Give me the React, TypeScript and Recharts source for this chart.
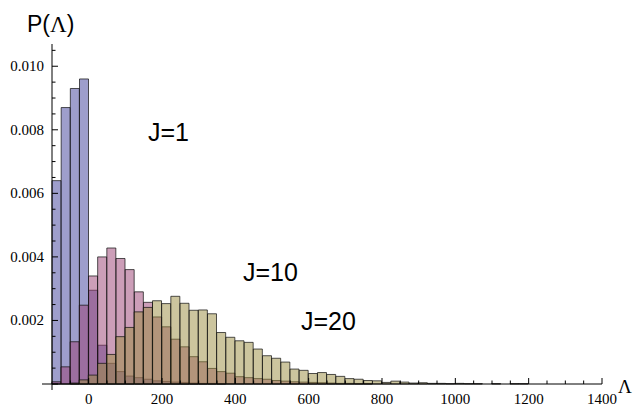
import { BarChart, Bar, XAxis, YAxis } from "recharts";

// left edge of each 25-wide bin
const binStart = [
  -100, -75, -50, -25, 0, 25, 50, 75, 100, 125, 150, 175, 200, 225, 250, 275,
  300, 325, 350, 375, 400, 425, 450, 475, 500, 525, 550, 575, 600, 625, 650,
  675, 700, 725, 750, 775, 800, 825, 850, 875, 900, 925, 950, 975, 1000, 1025,
  1050, 1075, 1100, 1125, 1150, 1175, 1200, 1225, 1250, 1275, 1300, 1325, 1350,
  1375,
];

const j1 = [
  0.0064, 0.0087, 0.0093, 0.0096, 0.00295, 0.00122, 0.00065, 0.00039, 0.00025,
  0.0002, 0.00015, 0.0001, 0.00008, 0.00006, 0.00005, 0.00003, 0.00002, 0.00002,
  0.00001, 0, 0, 0, 0, 0, 0, 0, 0, 0, 0, 0, 0, 0, 0, 0, 0, 0, 0, 0, 0, 0, 0, 0,
  0, 0, 0, 0, 0, 0, 0, 0, 0, 0, 0, 0, 0, 0, 0, 0, 0, 0,
];

const j10 = [
  0.00007, 0.00054, 0.00133, 0.00248, 0.0034, 0.004, 0.00428, 0.00395, 0.0036,
  0.0029, 0.00257, 0.00211, 0.0018, 0.00141, 0.00117, 0.00086, 0.0007, 0.00049,
  0.00039, 0.00034, 0.00023, 0.0002, 0.00017, 0.00015, 0.00011, 0.00009,
  0.00007, 0.00006, 0.00005, 0.00004, 0.00003, 0.00002, 0.00002, 0.00001,
  0.00001, 0, 0, 0, 0, 0, 0, 0, 0, 0, 0, 0, 0, 0, 0, 0, 0, 0, 0, 0, 0, 0, 0, 0,
  0, 0,
];

const j20 = [
  0, 0, 0.00003, 0.00013, 0.00028, 0.00065, 0.00093, 0.00149, 0.00178, 0.00227,
  0.00241, 0.00262, 0.00253, 0.00276, 0.00254, 0.00232, 0.00233, 0.00221,
  0.00162, 0.00147, 0.00136, 0.00131, 0.0011, 0.00089, 0.00081, 0.00069,
  0.00047, 0.00043, 0.00033, 0.00036, 0.0003, 0.00024, 0.00017, 0.00015,
  0.00011, 0.0001, 0.00005, 0.00009, 0.00006, 0.00003, 0.00004, 0.00002,
  0.00002, 0.00001, 0.00002, 0.00001, 0.00001, 0, 0.00001, 0, 0.00001, 0.00001,
  0, 0, 0, 0, 0, 0, 0, 0,
];

const xTicks = [
  -100, -50, 0, 50, 100, 150, 200, 250, 300, 350, 400, 450, 500, 550, 600, 650,
  700, 750, 800, 850, 900, 950, 1000, 1050, 1100, 1150, 1200, 1250, 1300, 1350,
  1400,
];

const yTicks = [
  0, 0.0005, 0.001, 0.0015, 0.002, 0.0025, 0.003, 0.0035, 0.004, 0.0045, 0.005,
  0.0055, 0.006, 0.0065, 0.007, 0.0075, 0.008, 0.0085, 0.009, 0.0095, 0.01,
  0.0105,
];

const data = binStart.map((s, i) => ({
  x: s + 12.5,
  j1: j1[i],
  j10: j10[i],
  j20: j20[i],
}));

const serif = "'Liberation Serif', 'Times New Roman', serif";
const sans = "'Liberation Sans', Arial, sans-serif";

function XTick(props: any) {
  const { x, y, payload } = props;
  const v = payload.value;
  if (v === -100) {
    // stubs where the axes run past the origin
    return (
      <g>
        <line x1={x - 10} y1={y} x2={x} y2={y} stroke="#000" />
        <line x1={x} y1={y} x2={x} y2={y + 6} stroke="#000" />
      </g>
    );
  }
  const major = v % 200 === 0;
  return (
    <g>
      <line x1={x} y1={y} x2={x} y2={y - (major ? 6 : 3.5)} stroke="#000" />
      {major && (
        <text
          x={x}
          y={y + 20}
          textAnchor="middle"
          fontFamily={serif}
          fontSize={15}
          fill="#000"
        >
          {v}
        </text>
      )}
    </g>
  );
}

function YTick(props: any) {
  const { x, y, payload } = props;
  const v = payload.value;
  const n = Math.round(v * 10000);
  const major = n % 20 === 0;
  return (
    <g>
      <line x1={x} y1={y} x2={x + (major ? 6 : 3.5)} y2={y} stroke="#000" />
      {major && n > 0 && (
        <text
          x={x - 8}
          y={y + 5}
          textAnchor="end"
          fontFamily={serif}
          fontSize={15}
          fill="#000"
        >
          {v.toFixed(3)}
        </text>
      )}
    </g>
  );
}

const barProps = {
  isAnimationActive: false,
  fillOpacity: 0.5,
  stroke: "#111",
  strokeOpacity: 0.8,
  strokeWidth: 0.9,
};

export default function App() {
  return (
    <div
      style={{
        position: "absolute",
        left: 0,
        top: 0,
        width: 634,
        height: 410,
        background: "#fff",
      }}
    >
      <BarChart
        width={634}
        height={410}
        data={data}
        margin={{ top: 44, right: 32, left: 0, bottom: 0 }}
        barCategoryGap={0}
        barGap="-100%"
      >
        <XAxis
          dataKey="x"
          type="number"
          domain={[-100, 1400]}
          ticks={xTicks}
          interval={0}
          height={26}
          tickSize={0}
          tickMargin={0}
          tickLine={false}
          axisLine={{ stroke: "#000" }}
          tick={<XTick />}
        />
        <YAxis
          type="number"
          domain={[0, 0.0107]}
          ticks={yTicks}
          interval={0}
          width={52}
          tickSize={0}
          tickMargin={0}
          tickLine={false}
          axisLine={{ stroke: "#000" }}
          tick={<YTick />}
        />
        <Bar dataKey="j1" fill="#3d3d99" {...barProps} />
        <Bar dataKey="j10" fill="#993d71" {...barProps} />
        <Bar dataKey="j20" fill="#998b3d" {...barProps} />
      </BarChart>
      <svg
        width={634}
        height={410}
        style={{ position: "absolute", left: 0, top: 0, pointerEvents: "none" }}
      >
        <text x={27} y={32} fontFamily={sans} fontSize={23} fill="#000">
          P(<tspan fontFamily={serif}>Λ</tspan>)
        </text>
        <text x={148} y={141} fontFamily={sans} fontSize={25} fill="#000">
          J=1
        </text>
        <text x={243} y={281} fontFamily={sans} fontSize={25} fill="#000">
          J=10
        </text>
        <text x={301} y={330} fontFamily={sans} fontSize={25} fill="#000">
          J=20
        </text>
        <text x={618} y={393} fontFamily={serif} fontSize={19} fill="#000">
          Λ
        </text>
      </svg>
    </div>
  );
}
